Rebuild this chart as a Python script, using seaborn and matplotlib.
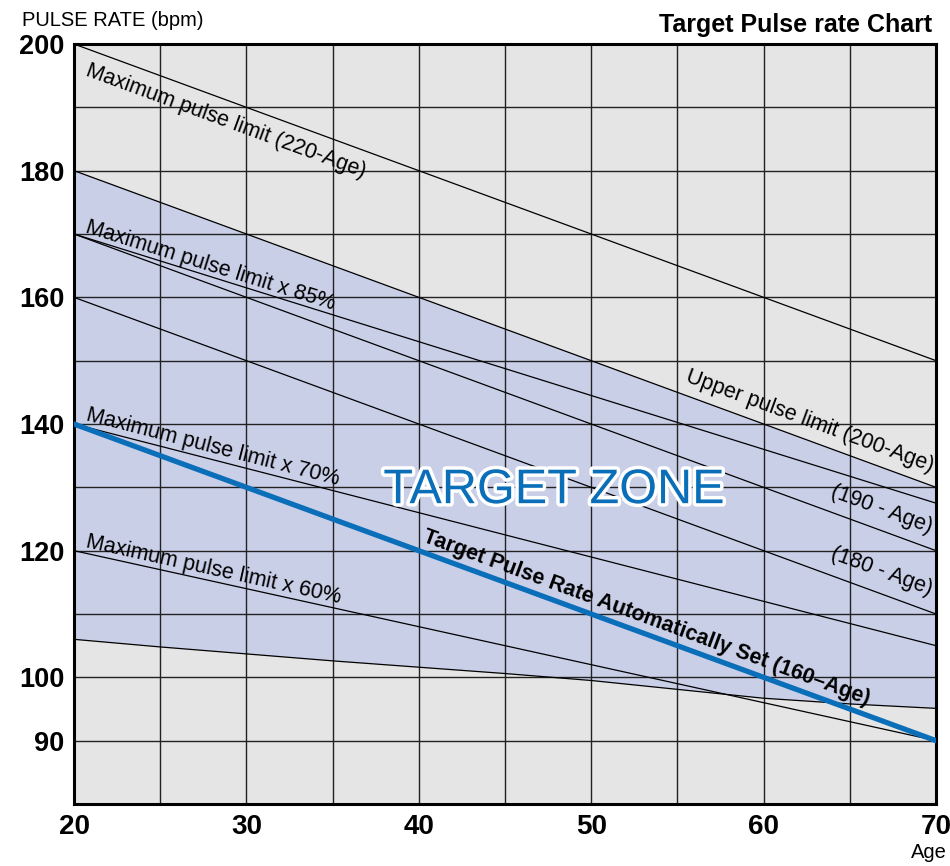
import numpy as np
import pandas as pd
import matplotlib
matplotlib.use("Agg")
import matplotlib.pyplot as plt
import matplotlib.patheffects as pe
import seaborn as sns

# ---- data ----
ages = [20, 70]
max_limit = [200, 150]          # 220 - Age
max_85 = [170, 127.5]           # 85 %
max_70 = [140, 105]             # 70 %
max_60 = [120, 90]              # 60 %
upper_200 = [180, 130]          # 200 - Age
hr_190 = [170, 120]             # 190 - Age
hr_180 = [160, 110]             # 180 - Age
target_160 = [140, 90]          # 160 - Age

zone_ages = [20, 25, 30, 35, 40, 45, 50, 55, 60, 65, 70]
zone_lower = [106, 104.8, 103.7, 102.6, 101.6, 100.6, 99.5, 98.1, 96.7, 95.8, 95.1]

x_ticks = [20, 30, 40, 50, 60, 70]
y_ticks = [200, 180, 160, 140, 120, 100, 90]

# ---- style ----
sns.set_theme(style="white")
plt.rcParams["font.family"] = ["Liberation Sans", "DejaVu Sans"]
plt.rcParams["text.color"] = "black"
plt.rcParams["xtick.color"] = "black"
plt.rcParams["ytick.color"] = "black"
plt.rcParams["axes.labelcolor"] = "black"

BG = "#e5e5e5"
ZONE = "#cacfe8"
BLUE = "#0a6fb8"

fig = plt.figure(figsize=(9.5, 8.66), dpi=100)
ax = fig.add_axes([74 / 950, 1 - 804 / 866, (936 - 74) / 950, (804 - 44) / 866])
ax.set_facecolor(BG)

# target zone polygon
ax.fill(np.concatenate([ages, zone_ages[::-1]]),
        np.concatenate([upper_200, zone_lower[::-1]]),
        color=ZONE, lw=0, zorder=0.2)

thin = dict(color="black", linewidth=0.9, zorder=2, legend=False)
for ys in [max_limit, max_85, max_70, max_60, upper_200, hr_190, hr_180]:
    sns.lineplot(x=ages, y=ys, ax=ax, **thin)
sns.lineplot(x=zone_ages, y=zone_lower, ax=ax, **thin)
sns.lineplot(x=ages, y=target_160, ax=ax, color=BLUE, linewidth=3.8,
             zorder=3, legend=False)

ax.set_xlim(20, 70)
ax.set_ylim(80, 200)

# grid
ax.set_axisbelow(True)
ax.set_xticks(np.arange(20, 71, 5))
ax.set_yticks(np.arange(80, 201, 10))
ax.grid(True, color="#222222", linewidth=1.0, zorder=0.5)
ax.set_xticklabels([str(v) if v in x_ticks else "" for v in np.arange(20, 71, 5)],
                   fontsize=20, fontweight="bold", color="black")
ax.set_yticklabels([str(v) if v in y_ticks else "" for v in np.arange(80, 201, 10)],
                   fontsize=19.5, fontweight="bold", color="black")
ax.tick_params(axis="both", length=0, colors="black")
ax.tick_params(axis="y", pad=7)
ax.tick_params(axis="x", pad=7)
ax.set_xlabel("")
ax.set_ylabel("")
for s in ax.spines.values():
    s.set_visible(True)
    s.set_color("black")
    s.set_linewidth(2.2)


def ang(vals):
    return np.degrees(np.arctan((vals[1] - vals[0]) / (ages[1] - ages[0])))


lab = dict(fontsize=15.5, color="black", rotation_mode="anchor",
           transform_rotates_text=True, zorder=4)
ax.text(20.6, 195.0, "Maximum pulse limit (220-Age)", rotation=ang(max_limit),
        ha="left", va="baseline", **lab)
ax.text(20.6, 170.35, "Maximum pulse limit x 85%", rotation=ang(max_85),
        ha="left", va="baseline", **lab)
ax.text(20.65, 140.55, "Maximum pulse limit x 70%", rotation=ang(max_70),
        ha="left", va="baseline", **lab)
ax.text(20.65, 120.5, "Maximum pulse limit x 60%", rotation=ang(max_60),
        ha="left", va="baseline", **lab)
ax.text(69.7, 132.4, "Upper pulse limit (200-Age)", rotation=ang(upper_200),
        ha="right", va="baseline", **lab)
ax.text(69.65, 122.8, "(190 - Age)", rotation=ang(hr_190),
        ha="right", va="baseline", **lab)
ax.text(69.65, 113.0, "(180 - Age)", rotation=ang(hr_180),
        ha="right", va="baseline", **lab)
ax.text(40.15, 121.4, "Target Pulse Rate Automatically Set (160\u2013Age)",
        rotation=ang(target_160), ha="left", va="baseline",
        fontweight="bold", **lab)

ax.text(47.85, 127.5, "TARGET ZONE", fontsize=35, color=BLUE,
        ha="center", va="baseline", zorder=5,
        path_effects=[pe.withStroke(linewidth=5, foreground="white")])

fig.text(22 / 950, 1 - 26 / 866, "PULSE RATE (bpm)", fontsize=14.5,
         ha="left", va="baseline", color="black")
fig.text(932 / 950, 1 - 32 / 866, "Target Pulse rate Chart", fontsize=18,
         fontweight="bold", ha="right", va="baseline", color="black")
fig.text(947 / 950, 1 - 858 / 866, "Age", fontsize=14.5,
         ha="right", va="baseline", color="black")

fig.savefig("out.png", dpi=100)
